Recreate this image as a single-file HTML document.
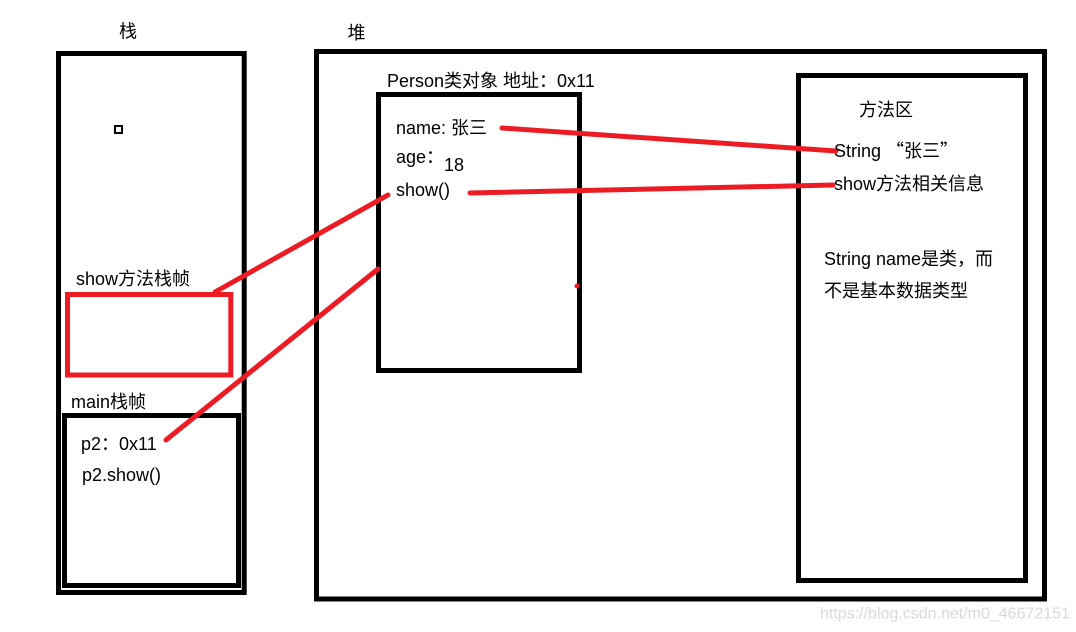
<!DOCTYPE html>
<html>
<head>
<meta charset="utf-8">
<style>
  html,body{margin:0;padding:0;background:#fff;}
  svg{display:block;}
  text{font-family:"Liberation Sans","Noto Sans CJK SC",sans-serif;font-size:18px;fill:#000;}
  .cjk{font-family:"Noto Sans CJK SC",sans-serif;}
</style>
</head>
<body>
<svg width="1076" height="632" viewBox="0 0 1076 632" xmlns="http://www.w3.org/2000/svg">
  <rect x="0" y="0" width="1076" height="632" fill="#fff"/>
  <!-- boxes -->
  <g fill="none" stroke="#000" stroke-width="5">
    <rect x="58.5" y="53.5" width="185.7" height="539"/>
    <rect x="316.5" y="51.5" width="728" height="547.5"/>
    <rect x="378.5" y="94.5" width="201" height="276"/>
    <rect x="798.5" y="75.5" width="227" height="505"/>
    <rect x="64.5" y="415.5" width="174" height="170"/>
  </g>
  <rect x="115" y="126" width="7" height="7" fill="none" stroke="#000" stroke-width="2"/>
  <rect x="67.5" y="294.5" width="163.3" height="80.5" fill="none" stroke="#ed1c24" stroke-width="5"/>

  <!-- red lines -->
  <g stroke="#ed1c24" stroke-width="5" stroke-linecap="round" fill="none">
    <line x1="502" y1="128" x2="836" y2="151"/>
    <line x1="470" y1="193" x2="833" y2="185"/>
    <line x1="388" y1="195" x2="215" y2="292"/>
    <line x1="378" y1="269" x2="166" y2="440"/>
  </g>
  <circle cx="577" cy="286" r="2.5" fill="#ed1c24"/>

  <!-- labels -->
  <text x="119" y="37.5">栈</text>
  <text x="347.5" y="39">堆</text>
  <text x="387" y="87">Person类对象 地址：0x11</text>
  <text x="396" y="134">name: 张三</text>
  <text x="396" y="163">age：</text>
  <text x="444" y="171">18</text>
  <text x="396" y="196">show()</text>
  <text x="76" y="285">show方法栈帧</text>
  <text x="71" y="408">main栈帧</text>
  <text x="81" y="450">p2：0x11</text>
  <text x="82" y="481">p2.show()</text>
  <text x="859" y="116">方法区</text>
  <text x="834" y="157">String <tspan class="cjk">“张三”</tspan></text>
  <text x="834" y="190">show方法相关信息</text>
  <text x="824" y="265">String name是类，而</text>
  <text x="824" y="297">不是基本数据类型</text>
  <text x="820" y="618.5" style="font-size:16px;fill:#d9d9d9;">https://blog.csdn.net/m0_46672151</text>
</svg>
</body>
</html>
